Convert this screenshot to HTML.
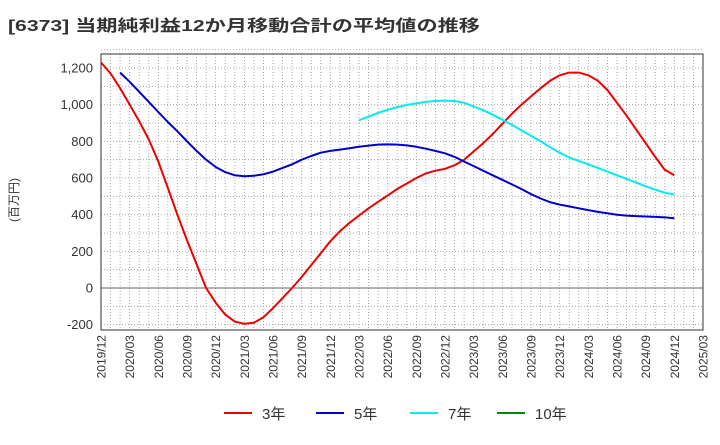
<!DOCTYPE html>
<html><head><meta charset="utf-8"><style>
body{margin:0;background:#fff;font-family:"Liberation Sans","Noto Sans CJK JP",sans-serif}
svg text{font-family:"Liberation Sans","Noto Sans CJK JP",sans-serif}
</style></head><body>
<svg id="c" width="720" height="440" xmlns="http://www.w3.org/2000/svg">
<text x="8" y="31" font-size="16" font-weight="bold" fill="#333" textLength="472" lengthAdjust="spacingAndGlyphs">[6373]  当期純利益12か月移動合計の平均値の推移</text>
<text transform="translate(18,200) rotate(-90)" font-size="12" fill="#333" text-anchor="middle">(百万円)</text>
<g id="grid"></g><g id="axes"></g><g id="series"></g><g id="legend"></g>
</svg>
<script>
const xLabels=["2019/12","2020/03","2020/06","2020/09","2020/12","2021/03","2021/06","2021/09","2021/12","2022/03","2022/06","2022/09","2022/12","2023/03","2023/06","2023/09","2023/12","2024/03","2024/06","2024/09","2024/12","2025/03"];
const yTicks=[-200,0,200,400,600,800,1000,1200];
const s3=[1230,1170,1090,1000,910,810,690,545,400,260,130,0,-80,-145,-183,-195,-190,-160,-110,-55,0,60,125,190,255,310,355,395,435,470,505,540,570,600,625,640,650,670,700,745,790,840,895,950,1000,1045,1090,1130,1160,1175,1175,1160,1130,1080,1010,940,865,790,715,645,615];
const s5=[null,null,1175,1125,1070,1015,960,905,855,800,748,700,660,632,615,610,612,620,635,655,675,700,720,738,748,755,762,770,777,782,783,782,778,770,760,748,735,715,690,665,640,615,590,565,540,512,488,468,455,445,435,425,415,408,400,395,392,390,388,385,380];
const s7=[...Array(27).fill(null),915,935,955,972,987,998,1007,1015,1020,1022,1020,1010,990,970,945,918,890,860,830,800,768,738,712,693,675,655,635,615,595,575,555,537,520,510];
const s10=[];
const L=101,R=703,T=54,B=330;
const X=m=>L+m*(R-L)/63;
const Y=v=>288-v*(288-68)/1200;
const NS="http://www.w3.org/2000/svg";
function mk(t,a,p){const e=document.createElementNS(NS,t);for(const k in a)e.setAttribute(k,a[k]);p.appendChild(e);return e;}
const g=document.getElementById('grid'),ax=document.getElementById('axes'),se=document.getElementById('series'),lg=document.getElementById('legend');
for(let m=1;m<63;m++){const l=mk('line',{x1:X(m),x2:X(m),y1:T,y2:B,stroke:'#999','stroke-width':0.8,'stroke-dasharray':'1,2'},g);

}
for(let v=-200;v<=1300;v+=100){if(v===0)continue;const l=mk('line',{x1:L,x2:R,y1:Y(v),y2:Y(v),stroke:'#999','stroke-width':0.8,'stroke-dasharray':'1,2'},g);

}
const z=mk('line',{x1:L,x2:R,y1:Y(0),y2:Y(0),stroke:'#666','stroke-width':1},g);


const fr=mk('rect',{x:L,y:T,width:R-L,height:B-T,fill:'none',stroke:'#333','stroke-width':1},ax);


yTicks.forEach(v=>{const t=mk('text',{x:L-8,y:Y(v)+4.5,'font-size':13,fill:'#333','text-anchor':'end'},ax);t.textContent=v.toLocaleString('en-US');

});
xLabels.forEach((s,i)=>{const x=X(i*3);const t=mk('text',{transform:`translate(${x+4.5},${B+5}) rotate(-90)`,'font-size':12,fill:'#333','text-anchor':'end'},ax);t.textContent=s;

});
function draw(arr,col,name){let d='';let pen=false;arr.forEach((v,i)=>{if(v==null){pen=false;return;}d+=(pen?'L':'M')+X(i).toFixed(1)+','+Y(v).toFixed(1);pen=true;});
if(!d)return;const p=mk('path',{d:d,fill:'none',stroke:col,'stroke-width':2,'stroke-linejoin':'round'},se);

}
draw(s3,'#ee0000','series-3y');draw(s5,'#0000cc','series-5y');draw(s7,'#00eeee','series-7y');draw(s10,'#008800','series-10y');
[['3年','#ee0000',224],['5年','#0000cc',316],['7年','#00eeee',410],['10年','#008800',497]].forEach(([lab,col,x])=>{
const gg=mk('g',{},lg);


mk('line',{x1:x,x2:x+28,y1:413,y2:413,stroke:col,'stroke-width':2},gg);
const t=mk('text',{x:x+38,y:419,'font-size':15,fill:'#333'},gg);t.textContent=lab;});
</script>
</body></html>
